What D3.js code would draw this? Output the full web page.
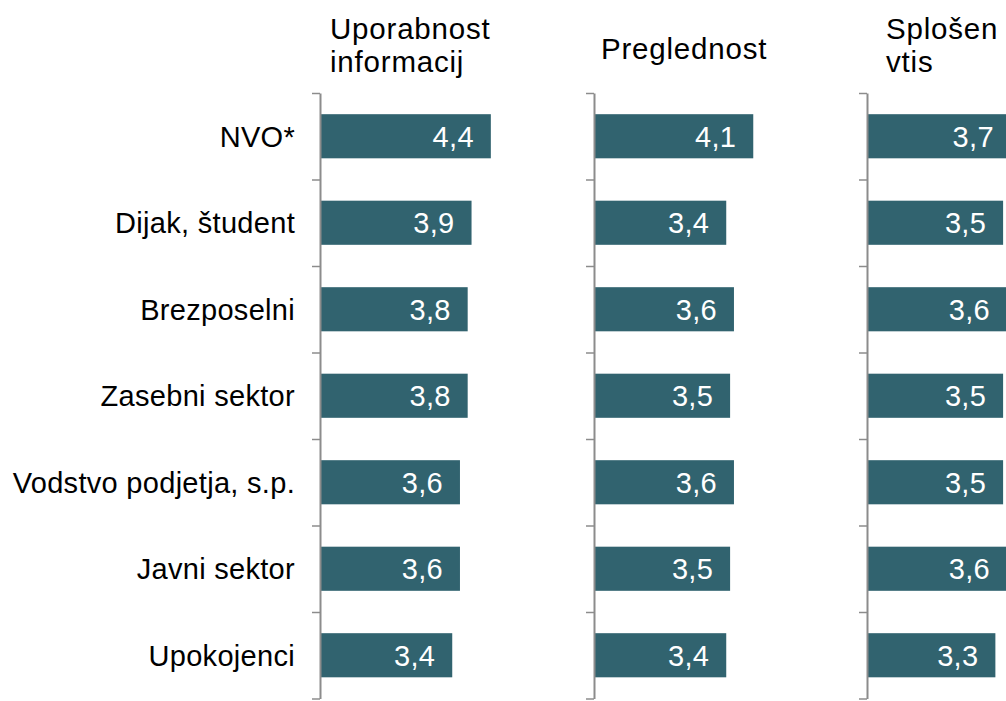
<!DOCTYPE html>
<html>
<head>
<meta charset="utf-8">
<script src="https://cdn.jsdelivr.net/npm/d3@7"></script>
<style>
  body { margin: 0; background: #fff; overflow: hidden; }
  text { font-family: Arial, 'Liberation Sans', sans-serif; }
</style>
</head>
<body>
<div class="canvas"></div>
<script>
// data
const categories = ['NVO*', 'Dijak, študent', 'Brezposelni', 'Zasebni sektor', 'Vodstvo podjetja, s.p.', 'Javni sektor', 'Upokojenci'];
const uporabnost = [4.4, 3.9, 3.8, 3.8, 3.6, 3.6, 3.4];
const preglednost = [4.1, 3.4, 3.6, 3.5, 3.6, 3.5, 3.4];
const splosen = [3.7, 3.5, 3.6, 3.5, 3.5, 3.6, 3.3];
const panelTitles = [['Uporabnost', 'informacij'], ['Preglednost'], ['Splošen', 'vtis']];

const series = [uporabnost, preglednost, splosen];

// layout
const dims = { width: 1006, height: 701 };
const axisX = [320, 594, 867];
const titleOffset = [{ x: 10, y: 39 }, { x: 7, y: 59 }, { x: 19, y: 39 }];
const titleLine = 33;
const plot = { top: 93, bottom: 698.5 };
const barColor = '#31636f';
const axisColor = '#8c8c8c';

const svg = d3.select('.canvas')
  .append('svg')
  .attr('width', dims.width)
  .attr('height', dims.height);

const y = d3.scaleBand()
  .domain(categories)
  .range([plot.top, plot.bottom])
  .paddingInner(0.49)
  .paddingOuter(0.245);

// boundary ticks between categories
const yEdges = d3.scaleLinear()
  .domain([0, categories.length])
  .range([plot.top, plot.bottom]);

const x = d3.scaleLinear()
  .domain([0, 5])
  .range([0, 193]);

const fmt = v => d3.format('.1f')(v).replace('.', ',');

series.forEach((values, p) => {
  const g = svg.append('g')
    .attr('transform', `translate(${axisX[p]}, 0)`);

  // bars
  g.selectAll('rect')
    .data(values)
    .enter()
    .append('rect')
      .attr('x', 1)
      .attr('y', (d, i) => y(categories[i]))
      .attr('width', d => x(d))
      .attr('height', y.bandwidth())
      .attr('fill', barColor);

  // value labels
  g.selectAll('text.val')
    .data(values)
    .enter()
    .append('text')
      .attr('class', 'val')
      .attr('x', d => 1 + x(d) - 17)
      .attr('y', (d, i) => y(categories[i]) + y.bandwidth() / 2)
      .attr('dy', '0.36em')
      .attr('text-anchor', 'end')
      .attr('fill', '#fff')
      .style('font-size', '29px')
      .style('letter-spacing', '0.3px')
      .text(fmt);

  // axis
  const axis = d3.axisLeft(yEdges)
    .tickValues(d3.range(categories.length + 1))
    .tickSize(8)
    .tickSizeOuter(0)
    .tickFormat('');

  const ag = g.append('g').call(axis);
  ag.select('.domain').attr('stroke', axisColor).attr('stroke-width', 2);
  ag.selectAll('.tick line').attr('stroke', axisColor).attr('stroke-width', 1.5);

  // panel title
  const title = g.append('text')
    .attr('x', titleOffset[p].x)
    .attr('y', titleOffset[p].y)
    .attr('fill', '#000')
    .style('font-size', '29.5px')
    .style('letter-spacing', '0.8px');

  title.selectAll('tspan')
    .data(panelTitles[p])
    .enter()
    .append('tspan')
      .attr('x', titleOffset[p].x)
      .attr('dy', (d, i) => i === 0 ? 0 : titleLine)
      .text(d => d);
});

// category labels
const labelAxis = d3.axisLeft(y)
  .tickSize(0)
  .tickPadding(25);

const lg = svg.append('g')
  .attr('transform', `translate(${axisX[0]}, 0)`)
  .call(labelAxis);

lg.select('.domain').remove();
lg.selectAll('text')
  .attr('fill', '#000')
  .attr('dy', '0.36em')
  .style('font-size', '29px')
  .style('letter-spacing', '0.3px')
  .style('font-family', "Arial, 'Liberation Sans', sans-serif");
</script>
</body>
</html>
